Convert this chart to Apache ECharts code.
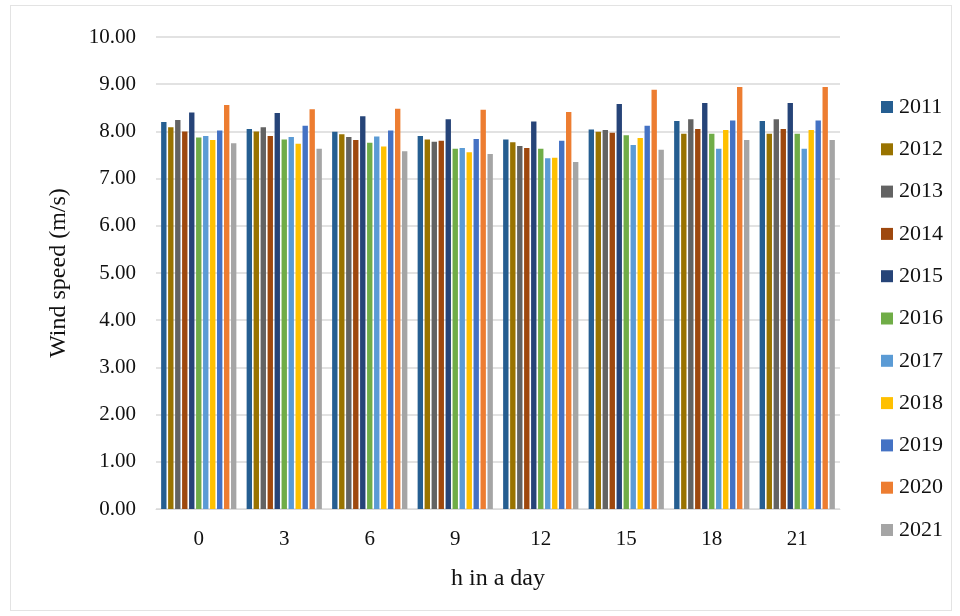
<!DOCTYPE html>
<html><head><meta charset="utf-8">
<script src="https://cdn.jsdelivr.net/npm/echarts@6/dist/echarts.min.js"></script>
<style>html,body{margin:0;padding:0;background:#fff}
#frame{position:absolute;left:10px;top:5px;width:940px;height:604px;border:1px solid #e3e3e3}
#c{position:absolute;left:0;top:0;width:960px;height:616px}</style>
</head><body><div id="frame"></div><div id="c"></div>
<script>
const categories = ['0','3','6','9','12','15','18','21'];
const years = ['2011','2012','2013','2014','2015','2016','2017','2018','2019','2020','2021'];
const v2011 = [8.20,8.05,7.99,7.90,7.83,8.04,8.22,8.22];
const v2012 = [8.09,8.00,7.94,7.83,7.77,7.99,7.95,7.95];
const v2013 = [8.24,8.09,7.88,7.78,7.69,8.03,8.26,8.26];
const v2014 = [8.00,7.90,7.82,7.80,7.65,7.97,8.05,8.05];
const v2015 = [8.40,8.39,8.32,8.26,8.21,8.58,8.60,8.60];
const v2016 = [7.87,7.83,7.76,7.63,7.63,7.92,7.95,7.95];
const v2017 = [7.90,7.88,7.89,7.65,7.43,7.71,7.63,7.63];
const v2018 = [7.82,7.74,7.68,7.56,7.44,7.86,8.03,8.03];
const v2019 = [8.02,8.12,8.02,7.84,7.80,8.12,8.23,8.23];
const v2020 = [8.56,8.47,8.48,8.46,8.41,8.88,8.94,8.94];
const v2021 = [7.75,7.63,7.58,7.52,7.35,7.61,7.82,7.82];
const seriesValues = [v2011,v2012,v2013,v2014,v2015,v2016,v2017,v2018,v2019,v2020,v2021];
const colors = ['#255E91','#997300','#636363','#9E480E','#264478','#70AD47','#5B9BD5','#FFC000','#4472C4','#ED7D31','#A5A5A5'];

const font = '"Liberation Serif","Times New Roman",serif';
const chart = echarts.init(document.getElementById('c'));
chart.setOption({
  animation:false,
  color: colors,
  textStyle:{fontFamily:font},
  grid:{left:156,right:120,top:37,bottom:107,containLabel:false},
  legend:{
    orient:'vertical', left:876, top:91, itemWidth:12, itemHeight:12, itemGap:20.3,
    icon:'rect',
    textStyle:{fontFamily:font,fontSize:22,color:'#111',padding:[0,0,0,1]},
    data: years
  },
  xAxis:{
    type:'category', data:categories,
    name:'h in a day', nameLocation:'middle', nameGap:58,
    nameTextStyle:{fontFamily:font,fontSize:24,color:'#111'},
    axisLine:{lineStyle:{color:'#d9d9d9',width:1}},
    axisTick:{show:false},
    axisLabel:{fontFamily:font,fontSize:21,color:'#111',margin:20}
  },
  yAxis:{
    type:'value', min:0, max:10, interval:1,
    name:'Wind speed (m/s)', nameLocation:'middle', nameGap:85,
    nameTextStyle:{fontFamily:font,fontSize:24,color:'#111'},
    axisLine:{show:false}, axisTick:{show:false},
    axisLabel:{fontFamily:font,fontSize:21,color:'#111',margin:20,formatter:v=>v.toFixed(2)},
    splitLine:{lineStyle:{color:'#d9d9d9',width:1.5}}
  },
  series: years.map((y,i)=>({
    name:y, type:'bar', data:seriesValues[i],
    barGap:'30%', barCategoryGap:'12%'
  }))
});
</script></body></html>
